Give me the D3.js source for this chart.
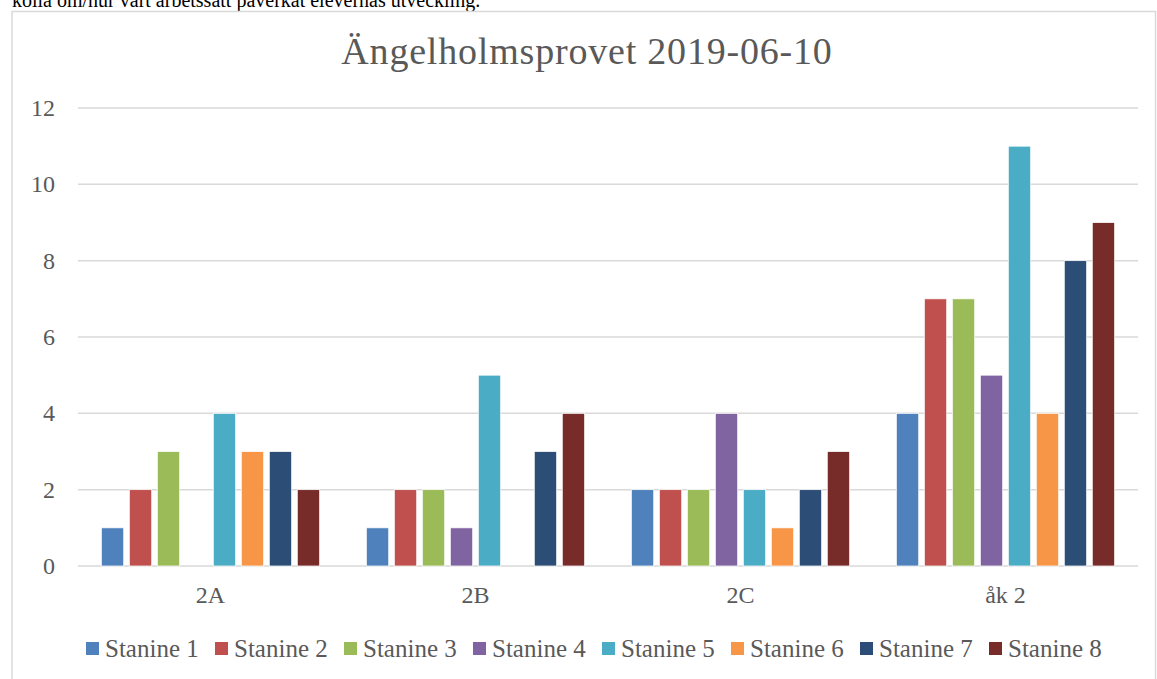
<!DOCTYPE html>
<html lang="sv">
<head><meta charset="utf-8"/>
<script src="https://cdn.jsdelivr.net/npm/d3@7"></script>
<style>
body { margin:0; background:#fff; }
text { font-family: "Liberation Serif", "Times New Roman", serif; }
</style>
</head>
<body>
<svg id="chart" width="1157" height="679"></svg>
<script>

var categories = ["2A", "2B", "2C", "åk 2"];
var seriesNames = ["Stanine 1","Stanine 2","Stanine 3","Stanine 4",
	"Stanine 5","Stanine 6","Stanine 7","Stanine 8"];
var colors = ["#4F81BD","#C0504D","#9BBB59","#8064A2",
	"#4BACC6","#F79646","#2C4D75","#772C2A"];
// one row per category, one value per stanine
var values = [
	[1, 2, 3, 0, 4, 3, 3, 2],
	[1, 2, 2, 1, 5, 0, 3, 4],
	[2, 2, 2, 4, 2, 1, 2, 3],
	[4, 7, 7, 5, 11, 4, 8, 9]
];
var yTicks = [0, 2, 4, 6, 8, 10, 12];
var title = "Ängelholmsprovet 2019-06-10";
var aboveText = "kolla om/hur vårt arbetssätt påverkat elevernas utveckling.";

var svg = d3.select("#chart");
var grey = "#595959";

// body text of the document, cut off at the top
svg.append("text")
	.attr("x", 12).attr("y", 7)
	.style("font-size", "20px").style("fill", "#000")
	.text(aboveText);

// chart frame
svg.append("rect")
	.attr("x", 12).attr("y", 11.5)
	.attr("width", 1143.5).attr("height", 700)
	.style("fill", "none").style("stroke", "#d9d9d9").style("stroke-width", 1.5);

svg.append("text")
	.attr("x", 587).attr("y", 64)
	.attr("text-anchor", "middle")
	.style("font-size", "38px").style("letter-spacing", "0.8px").style("fill", grey)
	.text(title);

var x0 = d3.scaleBand().domain(categories).range([78, 1138])
	.paddingInner(0.155).paddingOuter(0.0775);
var x1 = d3.scaleBand().domain(d3.range(seriesNames.length))
	.range([0, x0.bandwidth()]).paddingInner(0.2).paddingOuter(0.1);
var y = d3.scaleLinear().domain([0, 12]).range([566, 108]);

// gridlines
svg.append("g").selectAll("line").data(yTicks).enter().append("line")
	.attr("x1", 78).attr("x2", 1138)
	.attr("y1", d => y(d)).attr("y2", d => y(d))
	.style("stroke", "#d9d9d9").style("stroke-width", 1.5);

svg.append("g").selectAll("text").data(yTicks).enter().append("text")
	.attr("x", 55).attr("y", d => y(d) + 8)
	.attr("text-anchor", "end")
	.style("font-size", "24px").style("fill", grey)
	.text(d => d);

// bars
var groups = svg.append("g").selectAll("g").data(categories).enter().append("g")
	.attr("transform", d => "translate(" + x0(d) + ",0)");
groups.selectAll("rect")
	.data((c, i) => values[i].map((v, j) => ({s: j, v: v})))
	.enter().append("rect")
	.attr("x", d => x1(d.s))
	.attr("width", x1.bandwidth())
	.attr("y", d => y(d.v))
	.attr("height", d => y(0) - y(d.v))
	.style("fill", d => colors[d.s])
	.style("stroke", "#fff").style("stroke-width", 0.75);

svg.append("g").selectAll("text").data(categories).enter().append("text")
	.attr("x", d => x0(d) + x0.bandwidth() / 2).attr("y", 603)
	.attr("text-anchor", "middle")
	.style("font-size", "24px").style("fill", grey)
	.text(d => d);

// legend
var lx = d3.scalePoint().domain(seriesNames).range([86, 989]);
var items = svg.append("g").selectAll("g").data(seriesNames).enter().append("g")
	.attr("transform", d => "translate(" + lx(d) + ",642)");
items.append("rect")
	.attr("width", 13).attr("height", 13)
	.style("fill", (d, i) => colors[i]);
items.append("text")
	.attr("x", 19).attr("y", 15)
	.style("font-size", "25px").style("fill", grey)
	.text(d => d);

</script>
</body>
</html>
